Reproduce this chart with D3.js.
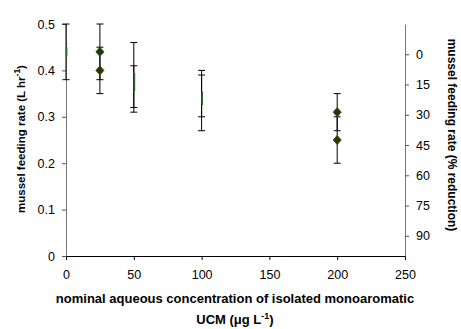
<!DOCTYPE html>
<html>
<head>
<meta charset="utf-8">
<script src="https://cdnjs.cloudflare.com/ajax/libs/d3/7.8.5/d3.min.js"></script>
<style>
  body { margin: 0; background: #fff; }
  svg text { font-family: "Liberation Sans", Arial, sans-serif; }
</style>
</head>
<body>
<svg id="chart" width="461" height="329"></svg>
<script>
// diamonds drawn at full size
const doses = [25, 25, 200, 200];
const rates = [0.44, 0.40, 0.31, 0.25];
const errors = [0.06, 0.05, 0.04, 0.05];

// points whose markers show only as a thin green sliver
const thinDoses = [0, 50, 50, 100, 100];
const thinRates = [0.44, 0.385, 0.365, 0.335, 0.345];
const thinErrors = [0.06, 0.075, 0.045, 0.065, 0.045];

const xTicks = [0, 50, 100, 150, 200, 250];
const yTicks = [0, 0.1, 0.2, 0.3, 0.4, 0.5];
const rightTicks = [0, 15, 30, 45, 60, 75, 90];

const svg = d3.select("#chart");

const x = d3.scaleLinear().domain([0, 250]).range([66, 405]);
const y = d3.scaleLinear().domain([0, 0.5]).range([256, 24]);
const yr = d3.scaleLinear().domain([100, -15]).range([256, 24]);

// x axis
const xAxis = svg.append("g")
  .attr("transform", "translate(0,256)")
  .call(d3.axisBottom(x).tickValues(xTicks).tickSize(4).tickSizeOuter(0).tickFormat(d3.format("d")));
xAxis.select(".domain").attr("stroke", "#000");
xAxis.selectAll("text").attr("font-size", 12.5).attr("y", 14).attr("dy", "0.71em").attr("fill", "#000");

// left axis
const yAxis = svg.append("g")
  .attr("transform", "translate(66,0)")
  .call(d3.axisLeft(y).tickValues(yTicks).tickSize(4).tickSizeOuter(0).tickFormat(d => d === 0 ? "0" : d3.format(".1f")(d)));
yAxis.select(".domain").attr("stroke", "#777");
yAxis.selectAll(".tick line").attr("stroke", "#555");
yAxis.selectAll("text").attr("font-size", 12.5).attr("x", -11).attr("fill", "#000");

// right axis
const rAxis = svg.append("g")
  .attr("transform", "translate(405,0)")
  .call(d3.axisRight(yr).tickValues(rightTicks).tickSize(4).tickSizeOuter(0));
rAxis.select(".domain").attr("stroke", "#777");
rAxis.selectAll(".tick line").attr("stroke", "#555");
rAxis.selectAll("text").attr("font-size", 12.5).attr("x", 11).attr("fill", "#000");

// error bars
function errorBars(ds, rs, es) {
  const g = svg.append("g").attr("stroke", "#000").attr("stroke-width", 1);
  ds.forEach((d, i) => {
    const cx = x(d);
    const top = y(rs[i] + es[i]);
    const bot = y(rs[i] - es[i]);
    g.append("line").attr("x1", cx).attr("x2", cx).attr("y1", top).attr("y2", bot);
    g.append("line").attr("x1", cx - 3.5).attr("x2", cx + 3.5).attr("y1", top).attr("y2", top);
    g.append("line").attr("x1", cx - 3.5).attr("x2", cx + 3.5).attr("y1", bot).attr("y2", bot);
  });
}
errorBars(thinDoses, thinRates, thinErrors);
errorBars(doses, rates, errors);

// thin markers
svg.append("g").selectAll("rect")
  .data(thinDoses)
  .join("rect")
  .attr("x", (d) => x(d) - 0.2)
  .attr("width", 1.6)
  .attr("y", (d, i) => y(thinRates[i]) - 4.5)
  .attr("height", 9)
  .attr("fill", "#2d6a2d");

// diamond markers
svg.append("g").selectAll("path")
  .data(doses)
  .join("path")
  .attr("d", (d, i) => {
    const cx = x(d), cy = y(rates[i]);
    return `M${cx},${cy - 4.5}L${cx + 4},${cy}L${cx},${cy + 4.5}L${cx - 4},${cy}Z`;
  })
  .attr("fill", "#333300")
  .attr("stroke", "#1e5a1e")
  .attr("stroke-width", 1);

// axis titles
svg.append("text")
  .attr("transform", "translate(25,139) rotate(-90)")
  .attr("text-anchor", "middle")
  .attr("font-size", 11.5).attr("font-weight", "bold")
  .html('mussel feeding rate (L hr<tspan dy="-5" font-size="8.5">-1</tspan><tspan dy="5">)</tspan>');

svg.append("text")
  .attr("transform", "translate(448,135) rotate(90)")
  .attr("text-anchor", "middle")
  .attr("font-size", 12).attr("font-weight", "bold")
  .text("mussel feeding rate (% reduction)");

svg.append("text")
  .attr("x", 235).attr("y", 303)
  .attr("text-anchor", "middle")
  .attr("font-size", 13).attr("font-weight", "bold")
  .text("nominal aqueous concentration of isolated monoaromatic");

svg.append("text")
  .attr("x", 235).attr("y", 324)
  .attr("text-anchor", "middle")
  .attr("font-size", 13).attr("font-weight", "bold")
  .html('UCM (\u03bcg L<tspan dy="-5" font-size="9">-1</tspan><tspan dy="5">)</tspan>');
</script>
</body>
</html>
